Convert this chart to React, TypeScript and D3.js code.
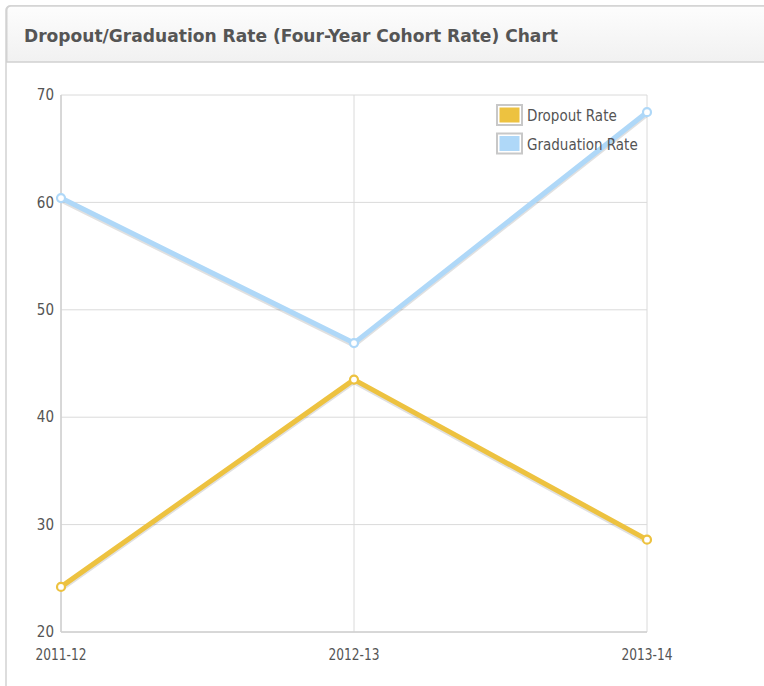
import React from "react";
import * as d3 from "d3";

// Chart data
const years = ["2011-12", "2012-13", "2013-14"];
const dropoutRate = [24.2, 43.5, 28.6];
const graduationRate = [60.4, 46.9, 68.4];
const yTicks = [20, 30, 40, 50, 60, 70];
const seriesNames = ["Dropout Rate", "Graduation Rate"];
const seriesColors = ["#edc240", "#afd8f8"];

const W = 764;
const H = 686;
const FONT = "'DejaVu Sans Condensed', 'DejaVu Sans', sans-serif";

export default function App() {
  const x = d3.scalePoint<string>().domain(years).range([61, 647]);
  const y = d3.scaleLinear().domain([20, 70]).range([632, 95]);
  const [x0, x1] = x.range();
  const [yb, yt] = y.range();

  const series = [dropoutRate, graduationRate];
  const line = d3
    .line<number>()
    .x((_, i) => x(years[i]) as number)
    .y((v) => y(v));

  return (
    <svg
      width={W}
      height={H}
      style={{ position: "absolute", left: 0, top: 0, background: "#fff" }}
      fontFamily={FONT}
    >
      <defs>
        <linearGradient id="hdr" x1="0" y1="0" x2="0" y2="1">
          <stop offset="0" stopColor="#fdfdfd" />
          <stop offset="1" stopColor="#f1f1f1" />
        </linearGradient>
      </defs>

      {/* panel */}
      <rect x={6} y={6} width={W + 20} height={H + 20} rx={4} fill="#fff" stroke="#d2d2d2" strokeWidth={1.5} />
      <path d={`M6.75,62 V10 a4,4 0 0 1 4,-4 H${W + 10} V62 Z`} fill="url(#hdr)" />
      <path d={`M6.75,62 V10 a4,4 0 0 1 4,-4 H${W + 10}`} fill="none" stroke="#d2d2d2" strokeWidth={1.5} />
      <line x1={6} x2={W} y1={62} y2={62} stroke="#d0d0d0" strokeWidth={1.5} />
      <text x={24} y={41.5} fontSize={17} fontWeight="bold" fill="#555" textLength={534} lengthAdjust="spacingAndGlyphs">
        Dropout/Graduation Rate (Four-Year Cohort Rate) Chart
      </text>

      {/* grid */}
      {yTicks.map((t) => (
        <line key={"gy" + t} x1={x0} x2={x1} y1={y(t)} y2={y(t)} stroke="#dadada" strokeWidth={1} />
      ))}
      {years.map((c) => (
        <line key={"gx" + c} x1={x(c)} x2={x(c)} y1={yt} y2={yb} stroke="#dadada" strokeWidth={1} />
      ))}
      <line x1={x0} x2={x0} y1={yt} y2={yb} stroke="#d0d0d0" strokeWidth={1.5} />
      <line x1={x0} x2={x1} y1={yb} y2={yb} stroke="#d0d0d0" strokeWidth={1.5} />

      {/* axis labels */}
      {yTicks.map((t) => (
        <text key={"ly" + t} x={54} y={y(t)} dy="0.35em" textAnchor="end" fontSize={15} fill="#545454">
          {t}
        </text>
      ))}
      {years.map((c) => (
        <text key={"lx" + c} x={x(c)} y={660} textAnchor="middle" fontSize={15} fill="#545454" textLength={51} lengthAdjust="spacingAndGlyphs">
          {c}
        </text>
      ))}

      {/* series */}
      {series.map((vals, s) => (
        <g key={"s" + s}>
          <path d={line(vals) || ""} transform="translate(0,2)" fill="none" stroke="rgba(0,0,0,0.12)" strokeWidth={5} strokeLinejoin="round" />
          <path d={line(vals) || ""} fill="none" stroke={seriesColors[s]} strokeWidth={5} strokeLinejoin="round" />
          {vals.map((v, i) => (
            <circle key={i} cx={x(years[i])} cy={y(v)} r={4} fill="#fff" stroke={seriesColors[s]} strokeWidth={2.2} />
          ))}
        </g>
      ))}

      {/* legend */}
      {seriesNames.map((n, i) => (
        <g key={"lg" + n} transform={`translate(497,${105 + i * 28.5})`}>
          <rect x={0} y={0} width={25} height={20} fill="#fff" stroke="#c8c8c8" strokeWidth={2} />
          <rect x={2.5} y={2.5} width={20} height={15} fill={seriesColors[i]} />
          <text x={30} y={11} dy="0.36em" fontSize={15} fill="#545454">
            {n}
          </text>
        </g>
      ))}
    </svg>
  );
}
